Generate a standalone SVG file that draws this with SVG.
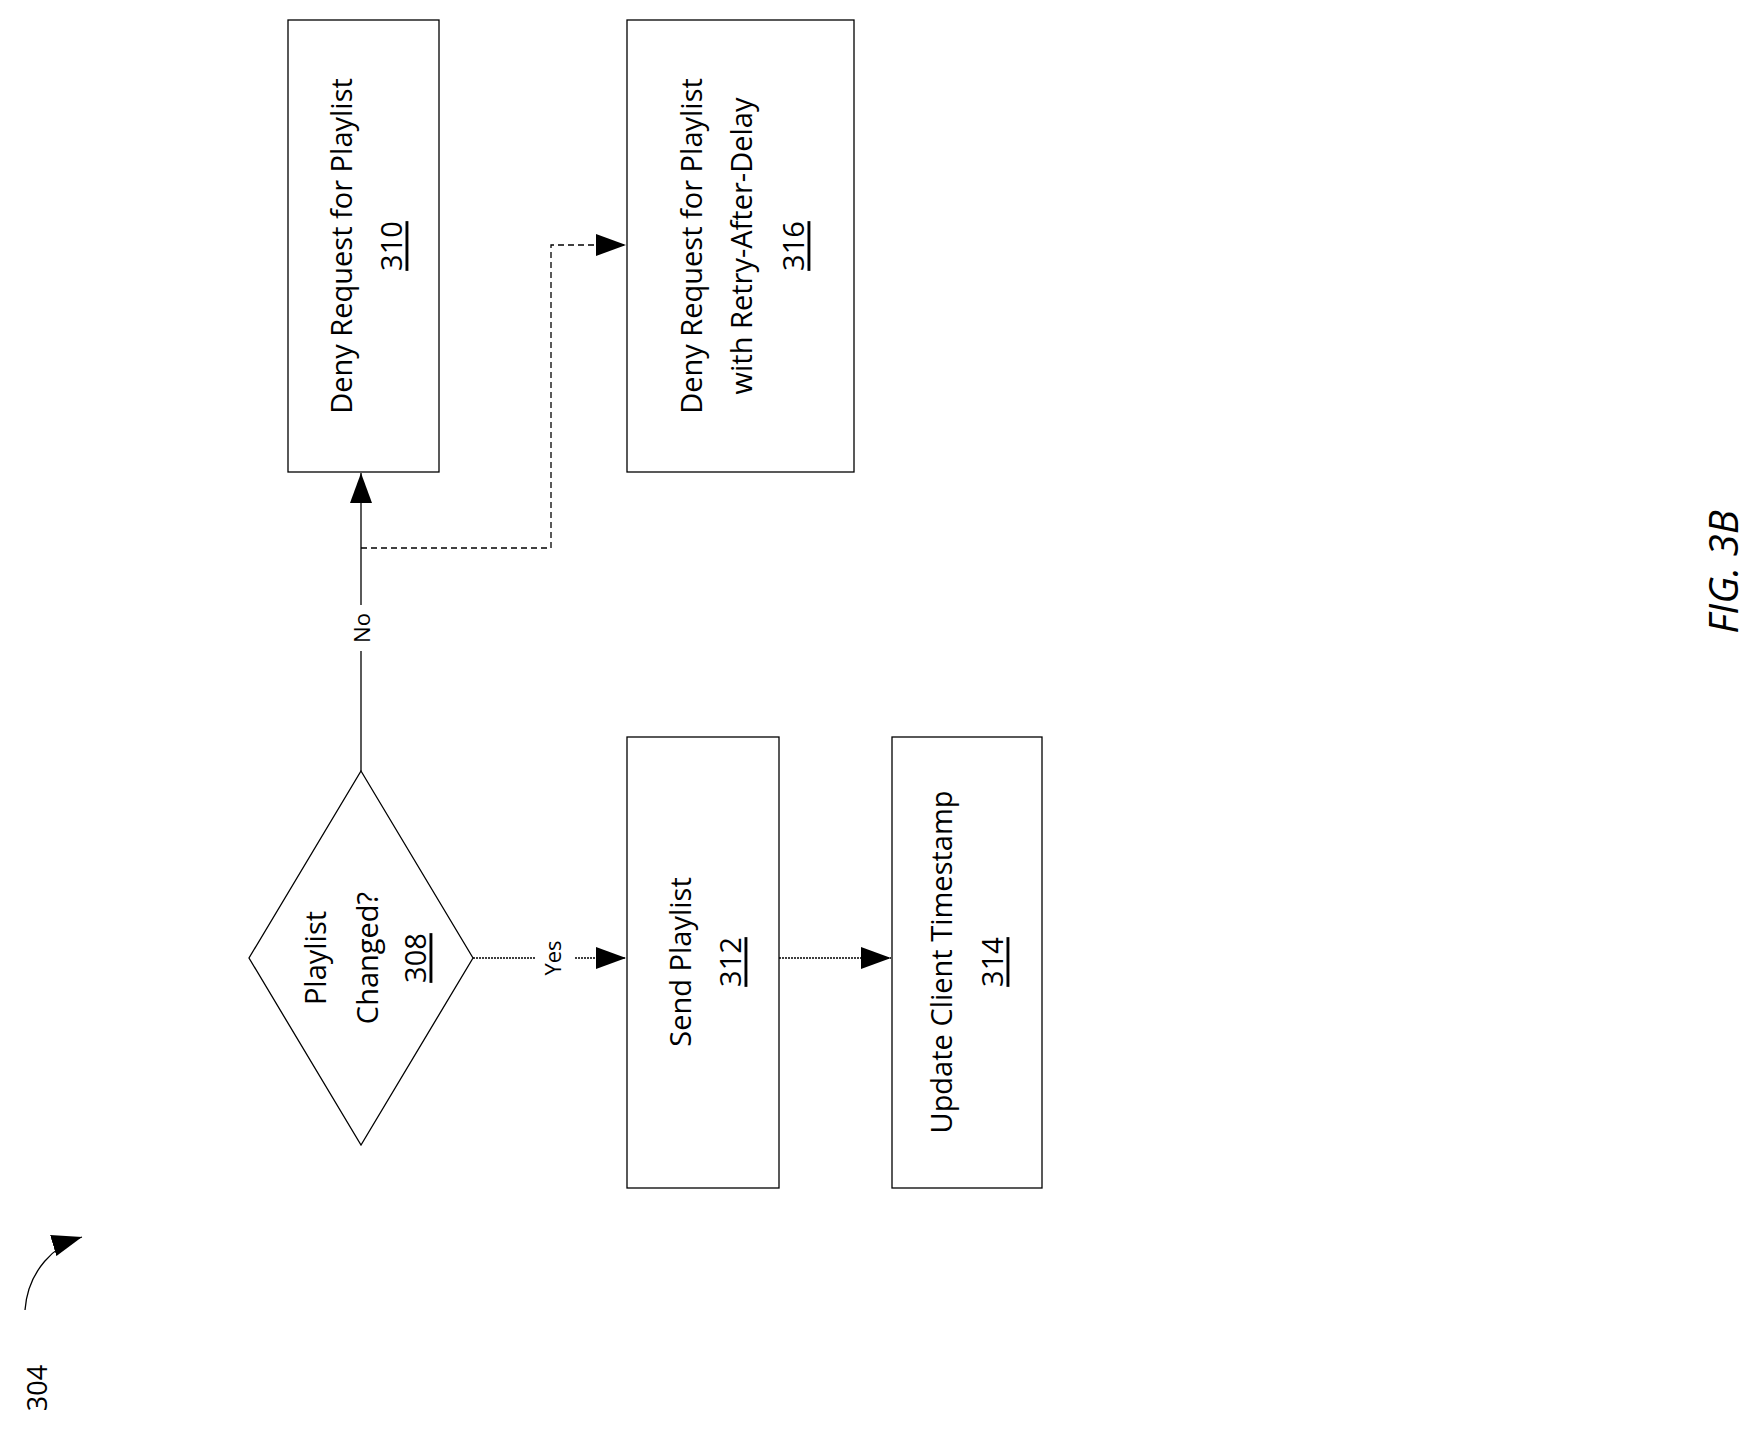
<svg xmlns="http://www.w3.org/2000/svg" width="1750" height="1431" viewBox="0 0 1750 1431">
<style>
.b{fill:#fff;stroke:#000;stroke-width:1.3}
.t{font-family:"Open Sans","Liberation Sans",sans-serif;font-size:29px;text-anchor:middle;dominant-baseline:central;fill:#000}
.u{text-decoration:underline}
.l{fill:none;stroke:#000;stroke-width:1.3}
</style>
<defs><marker id="a" viewBox="0 0 10 10" refX="10" refY="5" markerWidth="10" markerHeight="10" markerUnits="userSpaceOnUse" orient="auto"><path d="M0,0L10,5L0,10z"/></marker>
<marker id="A" viewBox="0 0 10 10" refX="10" refY="5" markerWidth="30" markerHeight="22" markerUnits="userSpaceOnUse" orient="auto" preserveAspectRatio="none"><path d="M0,0L10,5L0,10z"/></marker></defs>
<rect width="1750" height="1431" fill="#fff"/>
<g id="connectors">
<line class="l" x1="361" y1="771" x2="361" y2="473" marker-end="url(#A)"/>
<rect x="350" y="605" width="22" height="46" fill="#fff"/>
<text class="t" style="font-size:22px" transform="translate(361,628) rotate(-90)">No</text>
<polyline class="l" stroke-dasharray="6,4" points="361,548 551,548 551,245 626,245" marker-end="url(#A)"/>
<line class="l" x1="473" y1="958" x2="626" y2="958" stroke-dasharray="2,1" marker-end="url(#A)"/>
<rect x="535" y="935" width="40" height="46" fill="#fff"/>
<text class="t" style="font-size:22px" transform="translate(552,958) rotate(-90)">Yes</text>
<line class="l" x1="779" y1="958" x2="891" y2="958" stroke-dasharray="2,1" marker-end="url(#A)"/>
<path class="l" d="M25,1310 C28,1270 55,1245 82,1237" marker-end="url(#A)"/>
</g>
<g id="n310"><rect class="b" x="288" y="20" width="151" height="452"/>
<text class="t" transform="translate(340,246) rotate(-90)">Deny Request for Playlist</text>
<text class="t u" transform="translate(390,246) rotate(-90)">310</text></g>
<g id="n316"><rect class="b" x="627" y="20" width="227" height="452"/>
<text class="t" transform="translate(690,246) rotate(-90)">Deny Request for Playlist</text>
<text class="t" transform="translate(740,246) rotate(-90)">with Retry-After-Delay</text>
<text class="t u" transform="translate(792,246) rotate(-90)">316</text></g>
<g id="n308"><polygon class="b" points="361,771 473,958 361,1145 249,958"/>
<text class="t" transform="translate(314,958) rotate(-90)">Playlist</text>
<text class="t" transform="translate(366,958) rotate(-90)">Changed?</text>
<text class="t u" transform="translate(414,958) rotate(-90)">308</text></g>
<g id="n312"><rect class="b" x="627" y="737" width="152" height="451"/>
<text class="t" transform="translate(679,962) rotate(-90)">Send Playlist</text>
<text class="t u" transform="translate(729,962) rotate(-90)">312</text></g>
<g id="n314"><rect class="b" x="892" y="737" width="150" height="451"/>
<text class="t" transform="translate(940,962) rotate(-90)">Update Client Timestamp</text>
<text class="t u" transform="translate(991,962) rotate(-90)">314</text></g>
<text class="t" style="font-size:27px" transform="translate(36,1388) rotate(-90)">304</text>
<text class="t" style="font-size:40px;font-style:italic" transform="translate(1722,572) rotate(-90)">FIG. 3B</text>
</svg>
